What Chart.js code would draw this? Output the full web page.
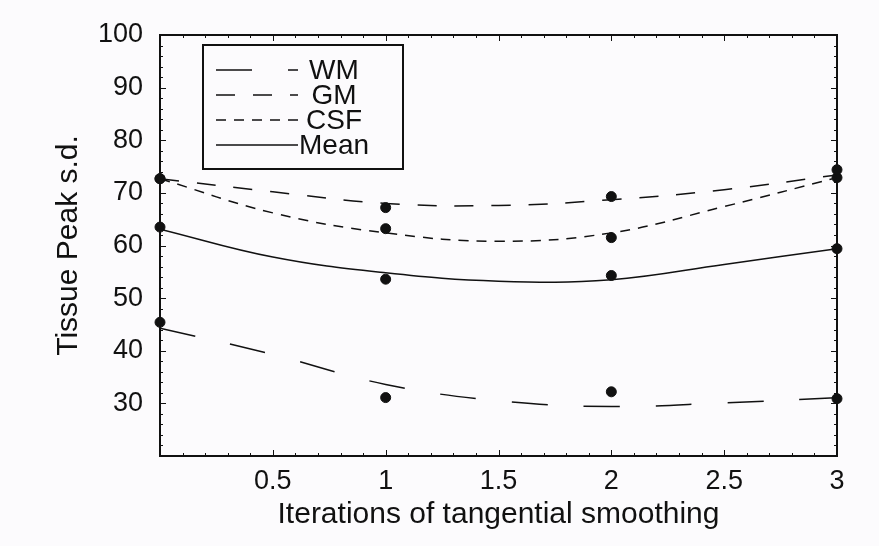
<!DOCTYPE html>
<html>
<head>
<meta charset="utf-8">
<script src="https://cdn.jsdelivr.net/npm/chart.js@4.4.1/dist/chart.umd.min.js"></script>
<style>
  html, body { margin: 0; padding: 0; background: #fcfbfd; }
</style>
</head>
<body>
<canvas id="peakChart" width="879" height="546"></canvas>
<script>
const FONT = "'Liberation Sans', Arial, sans-serif";
const INK = "#111";

// measured points at each iteration count
const iterations = [0, 1, 2, 3];
const wmPoints = [45.4, 31.1, 32.2, 30.9];
const gmPoints = [72.7, 67.2, 69.3, 74.4];
const csfPoints = [72.7, 63.2, 61.5, 72.9];
const meanPoints = [63.5, 53.6, 54.3, 59.4];

// fitted curves, every half iteration
const fitIterations = [0, 0.5, 1, 1.5, 2, 2.5, 3];
const wmFit = [44.3, 39.3, 33.6, 30.5, 29.4, 30.1, 31.1];
const gmFit = [72.7, 70.2, 68.0, 67.6, 68.7, 70.6, 73.4];
const csfFit = [72.7, 66.2, 62.4, 60.8, 62.4, 67.4, 72.9];
const meanFit = [63.1, 57.8, 54.8, 53.2, 53.5, 56.4, 59.4];

const seriesNames = ["WM", "GM", "CSF", "Mean"];

const toXY = (xs, ys) => xs.map((x, i) => ({ x, y: ys[i] }));

function fitLine(label, values, dash) {
  return {
    type: "line",
    label,
    data: toXY(fitIterations, values),
    borderColor: INK,
    borderWidth: 1.5,
    borderDash: dash,
    pointRadius: 0,
    tension: 0.4,
    fill: false
  };
}

function dots(label, values) {
  return {
    type: "scatter",
    label: label + " points",
    data: toXY(iterations, values),
    backgroundColor: INK,
    borderColor: INK,
    pointRadius: 5,
    clip: false
  };
}

// ---------------- frame with inward ticks ----------------
const frameTicks = {
  id: "frameTicks",
  beforeDatasetsDraw(chart) {
    const { ctx, chartArea: a, scales: { x, y } } = chart;
    ctx.save();
    ctx.strokeStyle = INK;
    ctx.lineWidth = 1;
    ctx.beginPath();
    for (let v = y.min; v <= y.max; v += 2) {
      const py = Math.round(y.getPixelForValue(v)) + 0.5;
      const len = v % 10 === 0 ? 6 : 3;
      ctx.moveTo(a.left, py); ctx.lineTo(a.left + len, py);
      ctx.moveTo(a.right, py); ctx.lineTo(a.right - len, py);
    }
    for (let i = 0; i <= 30; i++) {
      const px = Math.round(x.getPixelForValue(i / 10)) + 0.5;
      const len = i % 5 === 0 ? 6 : 3;
      ctx.moveTo(px, a.bottom); ctx.lineTo(px, a.bottom - len);
      ctx.moveTo(px, a.top); ctx.lineTo(px, a.top + len);
    }
    ctx.stroke();
    ctx.lineWidth = 2;
    ctx.strokeRect(a.left, a.top, a.right - a.left, a.bottom - a.top);
    ctx.restore();
  }
};

// ---------------- boxed legend inside the plot ----------------
const boxLegend = {
  id: "boxLegend",
  afterDatasetsDraw(chart) {
    const { ctx, chartArea: a } = chart;
    const bx = a.left + 43, by = a.top + 10;
    ctx.save();
    ctx.strokeStyle = INK;
    ctx.fillStyle = INK;
    ctx.lineWidth = 2;
    ctx.strokeRect(bx, by, 200, 124);
    ctx.font = "28px " + FONT;
    ctx.textAlign = "center";
    ctx.textBaseline = "middle";
    seriesNames.forEach((name, i) => {
      const ly = by + 25 + i * 25;
      ctx.lineWidth = 1.5;
      ctx.setLineDash(chart.data.datasets[i].borderDash);
      ctx.beginPath();
      ctx.moveTo(bx + 13, ly);
      ctx.lineTo(bx + 95, ly);
      ctx.stroke();
      ctx.setLineDash([]);
      ctx.fillText(name, bx + 131, ly + 1);
    });
    ctx.restore();
  }
};

new Chart(document.getElementById("peakChart"), {
  data: {
    datasets: [
      fitLine(seriesNames[0], wmFit, [36, 36]),
      fitLine(seriesNames[1], gmFit, [19, 18]),
      fitLine(seriesNames[2], csfFit, [10, 8]),
      fitLine(seriesNames[3], meanFit, []),
      dots(seriesNames[0], wmPoints),
      dots(seriesNames[1], gmPoints),
      dots(seriesNames[2], csfPoints),
      dots(seriesNames[3], meanPoints)
    ]
  },
  options: {
    responsive: false,
    animation: false,
    layout: { padding: { top: 35, right: 42, left: 0, bottom: 0 } },
    plugins: {
      legend: { display: false },
      tooltip: { enabled: false }
    },
    scales: {
      x: {
        type: "linear",
        min: 0,
        max: 3,
        grid: { display: false, drawTicks: false },
        border: { display: false },
        ticks: {
          stepSize: 0.5,
          autoSkip: false,
          padding: 9,
          color: INK,
          font: { family: FONT, size: 27 },
          callback: v => (v === 0 ? "" : String(v))
        },
        title: {
          display: true,
          text: "Iterations of tangential smoothing",
          color: INK,
          font: { family: FONT, size: 30 },
          padding: { top: 0, bottom: 13 }
        },
        afterFit: s => { s.height = 90; }
      },
      y: {
        type: "linear",
        min: 20,
        max: 100,
        grid: { display: false, drawTicks: false },
        border: { display: false },
        ticks: {
          stepSize: 10,
          padding: 17,
          color: INK,
          font: { family: FONT, size: 27 },
          callback: v => (v === 20 ? "" : String(v))
        },
        title: {
          display: true,
          text: "Tissue Peak s.d.",
          color: INK,
          font: { family: FONT, size: 30 },
          padding: { top: 51, bottom: 0 }
        },
        afterFit: s => { s.width = 160; }
      }
    }
  },
  plugins: [frameTicks, boxLegend]
});
</script>
</body>
</html>
